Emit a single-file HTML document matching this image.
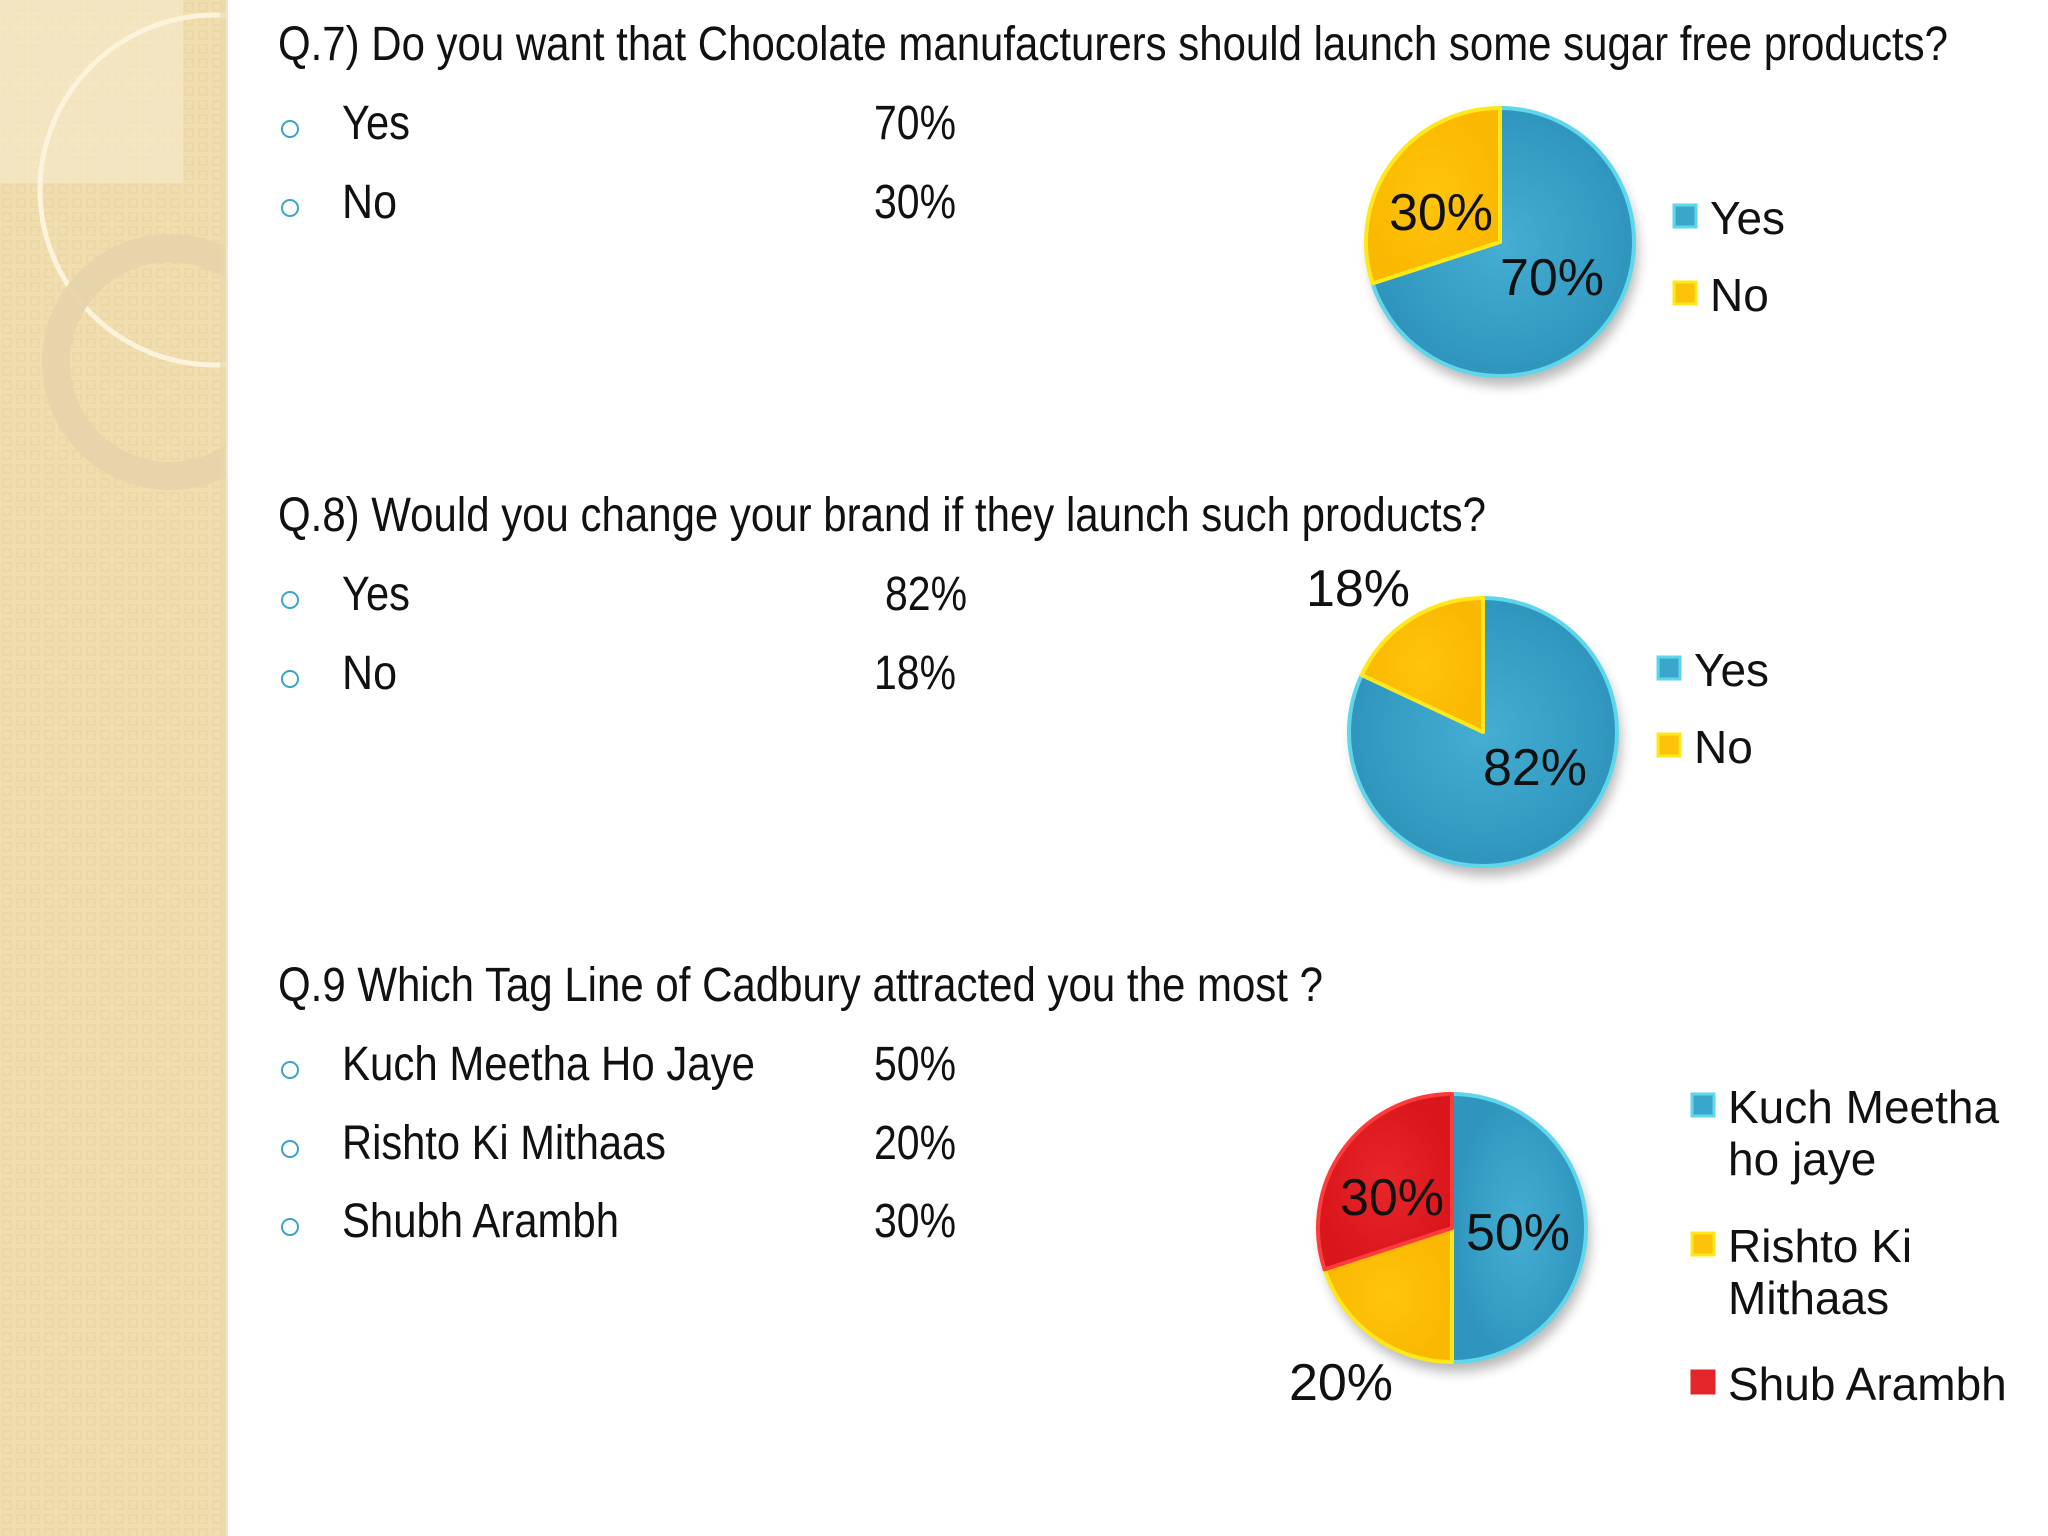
<!DOCTYPE html>
<html><head><meta charset="utf-8"><style>
html,body{margin:0;padding:0;width:2048px;height:1536px;overflow:hidden;background:#fff}
svg{display:block}
</style></head><body>
<svg id="page" width="2048" height="1536" viewBox="0 0 2048 1536" xmlns="http://www.w3.org/2000/svg">
<defs>
<pattern id="dots" width="14" height="14" patternUnits="userSpaceOnUse">
<rect width="14" height="14" fill="#f1deae"/>
<rect x="3" y="3" width="8" height="8" fill="none" stroke="#ead4a0" stroke-width="1.2"/>
</pattern>
<filter id="sh" x="-20%" y="-20%" width="140%" height="150%"><feGaussianBlur stdDeviation="6"/></filter>
<radialGradient id="gBlue" cx="50%" cy="50%" r="50%"><stop offset="0" stop-color="#45aed2"/><stop offset="1" stop-color="#2f95bd"/></radialGradient>
<radialGradient id="gYel" cx="50%" cy="50%" r="50%"><stop offset="0" stop-color="#ffc40c"/><stop offset="1" stop-color="#fbb800"/></radialGradient>
<radialGradient id="gRed" cx="50%" cy="50%" r="50%"><stop offset="0" stop-color="#e8262a"/><stop offset="1" stop-color="#d8161c"/></radialGradient>
<clipPath id="sideClip"><rect x="0" y="0" width="226" height="1536"/></clipPath>
</defs>
<g>
<rect x="0" y="0" width="226" height="1536" fill="url(#dots)"/>
<g clip-path="url(#sideClip)">
<rect x="0" y="0" width="183" height="183" fill="#f6ebcf" opacity="0.6"/>
<circle cx="215" cy="190" r="175" fill="none" stroke="#fbf3dc" stroke-width="5"/>
<circle cx="170" cy="362" r="114" fill="none" stroke="#e4d3aa" stroke-width="28" opacity="0.9"/>
</g>
<rect x="220" y="0" width="8" height="1536" fill="#e8d7ae" opacity="0.6"/>
</g>
<g id="textArea" font-family="'Liberation Sans Narrow','Liberation Sans',sans-serif" fill="#111"></g>
<g id="charts"></g>
</svg>
<script>
// ---- data ----
const q7Labels = ["Yes","No"];
const q7Values = [70,30];
const q8Labels = ["Yes","No"];
const q8Values = [82,18];
const q9Labels = ["Kuch Meetha Ho Jaye","Rishto Ki Mithaas","Shubh Arambh"];
const q9LegendLabels = [["Kuch Meetha","ho jaye"],["Rishto Ki","Mithaas"],["Shub Arambh"]];
const q9Values = [50,20,30];
const titles = ["Q.7) Do you want that Chocolate manufacturers should launch some sugar free products?","Q.8) Would you change your brand if they launch such products?","Q.9 Which Tag Line of Cadbury attracted you the most ?"];

const NS="http://www.w3.org/2000/svg";
function mk(tag,attrs,parent){const e=document.createElementNS(NS,tag);for(const k in attrs)e.setAttribute(k,attrs[k]);parent.appendChild(e);return e;}
const ta=document.getElementById('textArea');
const charts=document.getElementById('charts');

// ---- question text ----
const blocks=[
 {title:titles[0],ty:60,tw:1670,labels:q7Labels,values:q7Values,rows:[139,218],vx:[874,874],lw:[68,55]},
 {title:titles[1],ty:531,tw:1208,labels:q8Labels,values:q8Values,rows:[610,689],vx:[885,874],lw:[68,55]},
 {title:titles[2],ty:1001,tw:1045,labels:q9Labels,values:q9Values,rows:[1080,1159,1237],vx:[874,874,874],lw:[413,324,277]}
];
blocks.forEach((b,bi)=>{
 const t=mk('text',{x:278,y:b.ty,'font-size':48,textLength:b.tw,lengthAdjust:'spacingAndGlyphs'},ta);
 
 
 t.textContent=b.title;
 b.labels.forEach((l,i)=>{
  const c=mk('circle',{cx:290,cy:b.rows[i]-10,r:8,fill:'none',stroke:'#3aa3c8','stroke-width':2},ta);
  
  
  const lt=mk('text',{x:342,y:b.rows[i],'font-size':48,textLength:b.lw[i],lengthAdjust:'spacingAndGlyphs'},ta);
  
  
  lt.textContent=l;
  const vt=mk('text',{x:b.vx[i],y:b.rows[i],'font-size':48,textLength:82,lengthAdjust:'spacingAndGlyphs'},ta);
  
  
  vt.textContent=b.values[i]+'%';
 });
});

// ---- pies ----
const fills=['url(#gBlue)','url(#gYel)','url(#gRed)'];
const strokes=['#5fd6ea','#ffe81a','#ff3b3b'];
const legendFill=['#3ba6cc','#fdc20a','#e2262a'];
const legendStroke=['#5fd6ea','#ffe81a','#e2262a'];
function pie(name,cx,cy,r,values,labelPos,legend){
 const g=mk('g',{},charts);
 
 
 mk('ellipse',{cx:cx+4,cy:cy+10,rx:r,ry:r,fill:'#000',opacity:0.28,filter:'url(#sh)'},g);
 const total=values.reduce((a,b)=>a+b,0);
 let a0=0;
 values.forEach((v,i)=>{
  const a1=a0+v/total*2*Math.PI;
  const x0=cx+r*Math.sin(a0),y0=cy-r*Math.cos(a0),x1=cx+r*Math.sin(a1),y1=cy-r*Math.cos(a1);
  const large=(a1-a0)>Math.PI?1:0;
  const p=mk('path',{d:`M${cx},${cy} L${x0},${y0} A${r},${r} 0 ${large} 1 ${x1},${y1} Z`,fill:fills[i],stroke:strokes[i],'stroke-width':4,'stroke-linejoin':'round'},g);
  
  
  const lp=labelPos[i];
  const t=mk('text',{x:lp[0],y:lp[1],'font-size':52,'text-anchor':'middle','font-family':"'Liberation Sans',sans-serif",fill:'#111'},g);
  
  
  t.textContent=v+'%';
  a0=a1;
 });
 legend.items.forEach((lines,i)=>{
  const y=legend.ys[i];
  const sq=mk('rect',{x:legend.x,y:y-12,width:22,height:22,fill:legendFill[i],stroke:legendStroke[i],'stroke-width':3},g);
  
  
  lines.forEach((ln,j)=>{
   const t=mk('text',{x:legend.x+36,y:y+17+j*52,'font-size':46,'font-family':"'Liberation Sans',sans-serif",fill:'#111'},g);
   
   
   t.textContent=ln;
  });
 });
}
pie('pie-q7',1500,242,134,q7Values,[[1552,295],[1441,230]],{x:1674,ys:[217,294],items:q7Labels.map(s=>[s])});
pie('pie-q8',1483,732,134,q8Values,[[1535,785],[1358,606]],{x:1658,ys:[669,746],items:q8Labels.map(s=>[s])});
pie('pie-q9',1452,1228,134,q9Values,[[1518,1250],[1341,1400],[1392,1215]],{x:1692,ys:[1106,1245,1383],items:q9LegendLabels});
</script>
</body></html>
